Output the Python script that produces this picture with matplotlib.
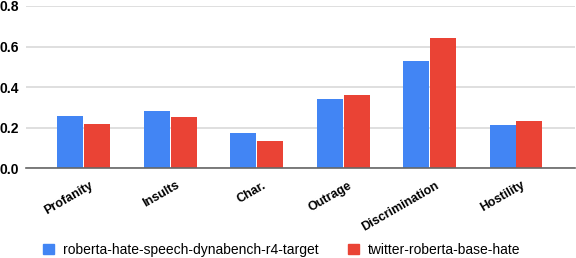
import matplotlib
matplotlib.use("Agg")
import matplotlib.pyplot as plt
import matplotlib.transforms as mtransforms
import numpy as np
from matplotlib.patches import Patch

plt.rcParams['font.family'] = ['Liberation Sans', 'DejaVu Sans']

categories = ["Profanity", "Insults", "Char.", "Outrage", "Discrimination", "Hostility"]
series_names = ["roberta-hate-speech-dynabench-r4-target", "twitter-roberta-base-hate"]
roberta_dyna = [0.256, 0.282, 0.175, 0.340, 0.530, 0.215]
twitter_roberta = [0.220, 0.251, 0.136, 0.363, 0.641, 0.232]
yticks = [0.0, 0.2, 0.4, 0.6, 0.8]
colors = ["#4285F4", "#EA4335"]

fig = plt.figure(figsize=(5.76, 2.58), dpi=100)
ax = fig.add_axes([0.045, 0.348, 0.953, 0.629])

x = np.arange(len(categories))
w = 0.30
off = 0.155
ax.bar(x - off, roberta_dyna, width=w, color=colors[0], zorder=3)
ax.bar(x + off, twitter_roberta, width=w, color=colors[1], zorder=3)

ax.set_xlim(-0.67, 5.68)
ax.set_ylim(0, 0.8)
ax.set_yticks(yticks)
ax.set_yticklabels([f"{v:.1f}" for v in yticks], fontsize=10, fontweight='bold')
ax.yaxis.grid(True, color="#d9d9d9", linewidth=1.2, zorder=0)
ax.set_axisbelow(True)
for s in ["top", "right", "left"]:
    ax.spines[s].set_visible(False)
ax.spines["bottom"].set_color("#666666")
ax.spines["bottom"].set_linewidth(1.2)
ax.spines["bottom"].set_zorder(4)
ax.tick_params(axis='both', length=0)
ax.tick_params(axis='y', pad=5)
ax.set_xticks(x)
ax.set_xticklabels(categories, rotation=30, ha='right', rotation_mode='anchor',
                   fontsize=9, fontweight='bold')
ax.tick_params(axis='x', pad=8)
shift = mtransforms.ScaledTranslation(5 / 100, 0, fig.dpi_scale_trans)
for lbl in ax.get_xticklabels():
    lbl.set_transform(lbl.get_transform() + shift)

handles = [Patch(color=colors[0]), Patch(color=colors[1])]
fig.legend(handles, series_names, loc='center', bbox_to_anchor=(0.489, 0.031),
           ncol=2, frameon=False, fontsize=10, handlelength=0.8, handleheight=0.8,
           columnspacing=2.1, handletextpad=0.65, borderaxespad=0, borderpad=0)

fig.savefig("out.png", dpi=100)
